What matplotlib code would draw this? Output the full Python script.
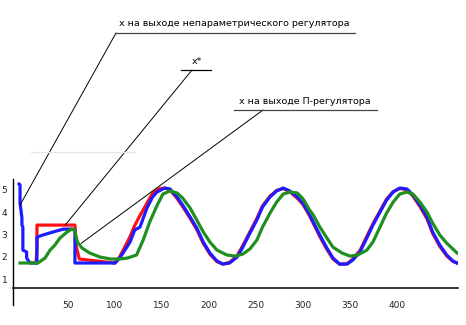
import matplotlib
matplotlib.use('Agg')
import matplotlib.pyplot as plt

# output of the non-parametric controller (blue)
x_np = [-2, -1, -1, 1, 1, 2, 2, 6, 6, 9.6, 17, 17, 23, 34, 45, 54, 57.4, 57.4, 100,
        105, 110.6, 116, 121, 126.6, 134, 140, 144.7, 153, 158.5, 166, 172, 180, 187,
        194, 201, 208.5, 215, 222, 230, 236, 243.6, 251, 257, 265, 272, 279, 286, 294,
        300, 307, 311, 318, 325.5, 332, 339, 347, 353, 360.6, 368, 374.5, 382, 389,
        396, 403, 410.6, 417, 424.5, 432, 438, 445.7, 453, 459.6, 464]
y_np = [5.26, 5.22, 4.41, 3.74, 3.42, 3.33, 2.30, 2.21, 1.94, 1.72, 1.72, 2.88, 2.97,
        3.11, 3.24, 3.24, 3.20, 1.72, 1.72, 1.94, 2.30, 2.66, 3.20, 3.33, 4.18, 4.68,
        4.90, 5.08, 5.04, 4.68, 4.32, 3.78, 3.29, 2.66, 2.17, 1.81, 1.67, 1.72, 1.99,
        2.43, 3.06, 3.65, 4.23, 4.68, 4.95, 5.08, 4.95, 4.68, 4.40, 3.90, 3.56, 2.97,
        2.39, 1.94, 1.67, 1.67, 1.85, 2.21, 2.84, 3.42, 4.00, 4.54, 4.90, 5.08, 5.04,
        4.77, 4.32, 3.78, 3.11, 2.52, 2.08, 1.81, 1.72]

# setpoint x* (red)
x_ref = [16, 17, 17, 57.4, 58.5, 62, 100, 105, 110, 116, 121, 126, 134, 140, 147, 153,
         158.5, 166, 172, 180, 187, 194, 201, 208.5, 215, 222, 230, 236, 243.6, 251,
         257, 265, 272, 279, 286, 294, 300, 307, 311, 318, 325.5, 332, 339, 347, 353,
         360.6, 368, 374.5, 382, 389, 396, 403, 410.6, 417, 424.5, 432, 438, 445.7,
         453, 459.6, 464]
y_ref = [1.72, 2.39, 3.42, 3.42, 2.52, 1.90, 1.72, 2.00, 2.40, 2.90, 3.40, 3.80, 4.40,
         4.85, 5.05, 5.08, 5.00, 4.62, 4.25, 3.72, 3.22, 2.60, 2.12, 1.78, 1.67, 1.75,
         2.05, 2.50, 3.12, 3.72, 4.28, 4.72, 4.97, 5.06, 4.92, 4.62, 4.35, 3.84, 3.50,
         2.90, 2.33, 1.90, 1.67, 1.69, 1.90, 2.27, 2.92, 3.48, 4.05, 4.58, 4.92, 5.06,
         5.00, 4.72, 4.25, 3.70, 3.05, 2.46, 2.04, 1.79, 1.72]

# output of the P controller (green)
x_p = [-1, 18, 25.5, 31, 36, 41.5, 49, 54, 57, 60, 65, 73, 84, 95, 105, 113, 123, 130,
       137, 145, 151, 158.5, 166, 172, 180, 187, 194, 201, 208.5, 219, 228, 236, 243.6,
       251, 257, 265, 272, 279, 286, 294, 300, 307, 311, 318, 325.5, 332, 341.5, 350,
       358.5, 368, 374.5, 382, 389, 396, 403, 410.6, 417, 424.5, 432, 438, 445.7, 453,
       464]
y_p = [1.72, 1.72, 1.94, 2.30, 2.52, 2.84, 3.11, 3.24, 3.20, 2.66, 2.39, 2.17, 1.99,
       1.90, 1.90, 1.94, 2.08, 2.75, 3.56, 4.32, 4.81, 4.95, 4.86, 4.63, 4.18, 3.65,
       3.11, 2.66, 2.30, 2.08, 2.03, 2.12, 2.35, 2.75, 3.33, 3.96, 4.45, 4.81, 4.90,
       4.86, 4.60, 4.10, 3.87, 3.33, 2.84, 2.43, 2.17, 2.03, 2.08, 2.30, 2.66, 3.33,
       3.96, 4.45, 4.81, 4.90, 4.81, 4.45, 4.00, 3.51, 2.97, 2.61, 2.17]

y_ticks = [1, 2, 3, 4, 5]
x_ticks = [50, 100, 150, 200, 250, 300, 350, 400]

W, H = 466, 325
fig = plt.figure(figsize=(W / 100, H / 100), dpi=100)
ax = fig.add_axes([13 / W, 37 / H, 445 / W, 110 / H])

ax.plot(x_ref, y_ref, color='#ff1010', lw=2.3, solid_joinstyle='round')
ax.plot(x_np, y_np, color='#1c1cff', lw=2.3, solid_joinstyle='round')
ax.plot(x_p, y_p, color='#1f8f1f', lw=2.3, solid_joinstyle='round')

ax.set_xlim(-8.5, 465)
ax.set_ylim(0.6, 5.53)
ax.set_xticks(x_ticks)
ax.set_yticks(y_ticks)
ax.tick_params(axis='both', length=0, labelsize=6.5, colors='#222222')
ax.tick_params(axis='x', pad=9)
ax.tick_params(axis='y', pad=4)
for s in ['top', 'right']:
    ax.spines[s].set_visible(False)
ax.spines['left'].set_visible(False)
ax.spines['bottom'].set_linewidth(1.1)

# overlay in pixel coordinates for the callouts
ov = fig.add_axes([0, 0, 1, 1], facecolor='none')
ov.set_xlim(0, W)
ov.set_ylim(H, 0)
ov.axis('off')
ov.plot([13, 13], [179, 305], color='black', lw=1.0)
ov.plot([31, 134], [152, 152], color='#e6e6e6', lw=1.0)

fs = 6.8
ov.text(234, 23, 'x на выходе непараметрического регулятора', fontsize=fs,
        ha='center', va='center')
ov.plot([116, 355], [33, 33], color='#444444', lw=0.9)
ov.text(197, 62, 'x*', fontsize=fs, ha='center', va='center')
ov.plot([181, 211], [70, 70], color='black', lw=0.9)
ov.text(305, 102, 'x на выходе П-регулятора', fontsize=fs, ha='center', va='center')
ov.plot([234, 377], [110, 110], color='#444444', lw=0.9)

# leader lines to points on the curves
leaders = [((116, 33), (x_np[2], 4.32)),
           ((192, 70), (47, y_ref[3])),
           ((263, 110), (64, 2.6))]
for (px, py), xy in leaders:
    ax.annotate('', xy=xy, xycoords='data', xytext=(px, H - py),
                textcoords='figure pixels',
                arrowprops=dict(arrowstyle='-', color='black', lw=0.7,
                                shrinkA=0, shrinkB=0))

fig.savefig('out.png', dpi=100)
